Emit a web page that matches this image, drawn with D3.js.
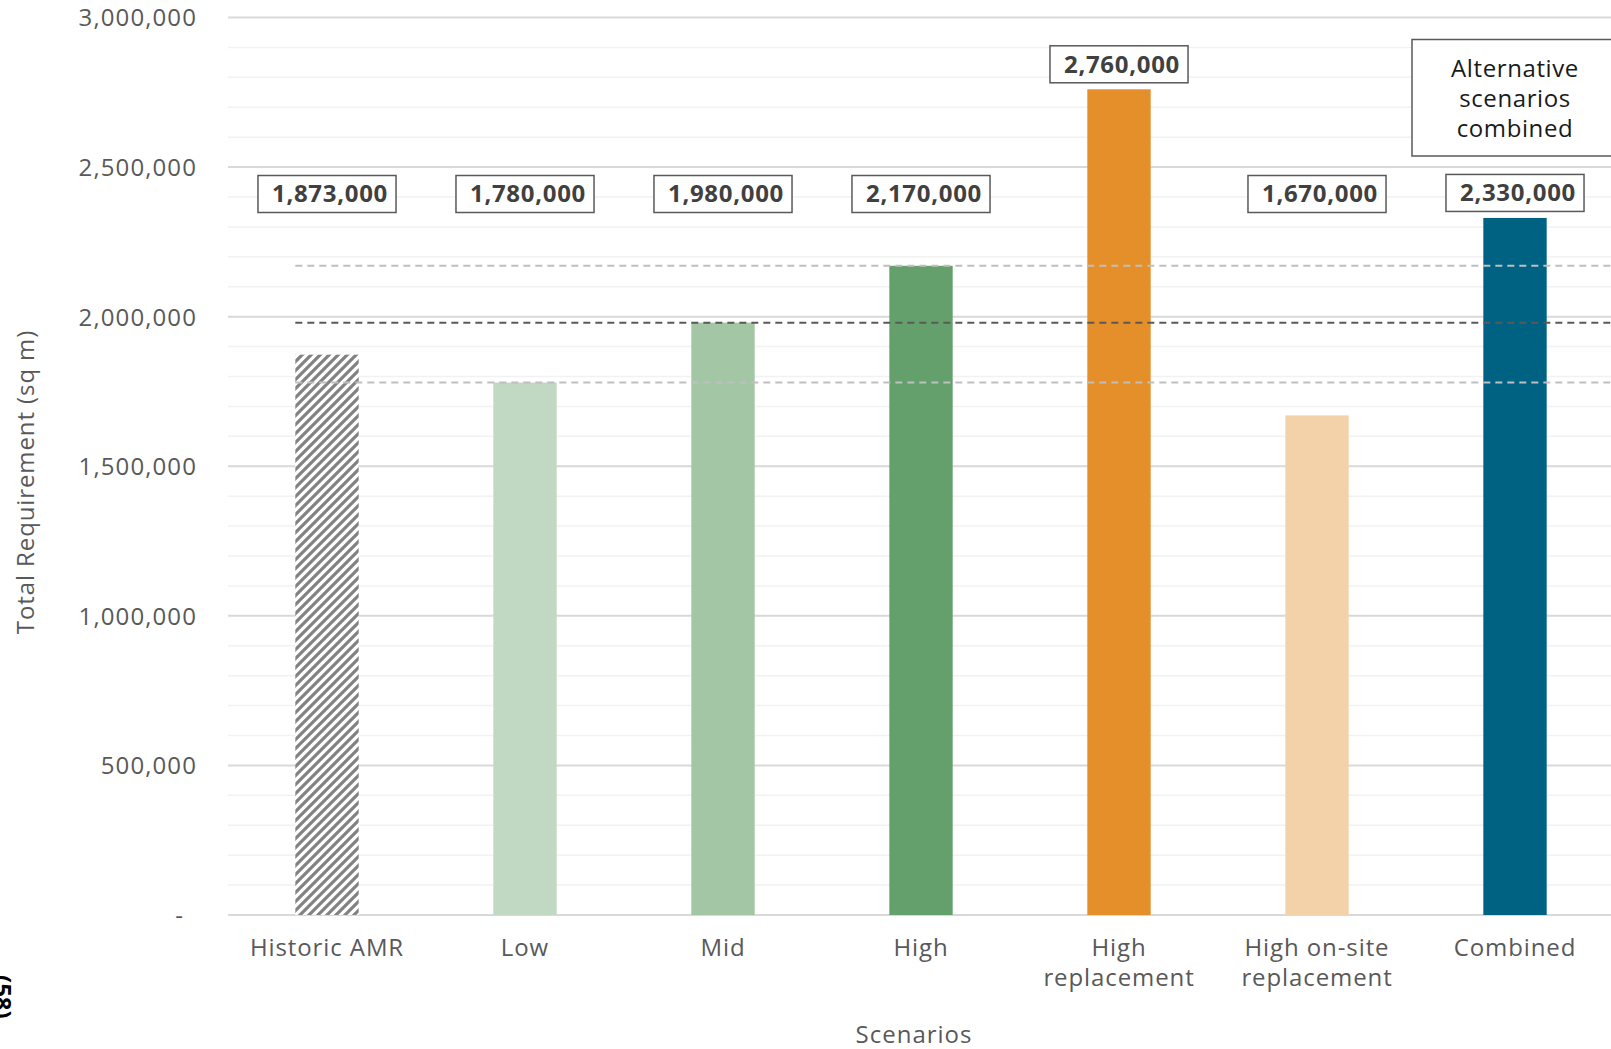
<!DOCTYPE html>
<html>
<head>
<meta charset="utf-8">
<script src="https://cdn.jsdelivr.net/npm/d3@7"></script>
<style>
  html, body { margin: 0; padding: 0; background: #fff; overflow: hidden; }
  svg { display: block; }
  text { font-family: "Open Sans", "Noto Sans", sans-serif; }
</style>
</head>
<body>
<svg id="chart" width="1611" height="1049"></svg>
<script>
// Scenario categories (label lines) and total requirement values (sq m)
const categories = ["Historic AMR", "Low", "Mid", "High", "High replacement", "High on-site replacement", "Combined"];
const categoryLines = [["Historic AMR"], ["Low"], ["Mid"], ["High"], ["High", "replacement"], ["High on-site", "replacement"], ["Combined"]];
const values = [1873000, 1780000, 1980000, 2170000, 2760000, 1670000, 2330000];
const valueLabels = ["1,873,000", "1,780,000", "1,980,000", "2,170,000", "2,760,000", "1,670,000", "2,330,000"];
const barColors = [null, "#c1d9c3", "#a3c6a5", "#63a06b", "#e48f29", "#f4d2a9", "#006283"];
// Reference levels: Low, Mid and High scenarios
const referenceLines = [1780000, 1980000, 2170000];
const referenceColors = ["#bfbfbf", "#595959", "#bfbfbf"];
const yTicks = [0, 500000, 1000000, 1500000, 2000000, 2500000, 3000000];
const yTickLabels = ["-", "500,000", "1,000,000", "1,500,000", "2,000,000", "2,500,000", "3,000,000"];
const combinedNote = ["Alternative", "scenarios", "combined"];

const svg = d3.select("#chart");

const plot = { left: 228, right: 1614, top: 17.5, bottom: 915 };

const x = d3.scaleBand()
  .domain(categories)
  .range([plot.left, plot.right])
  .paddingInner(0.68)
  .paddingOuter(0.34);

const y = d3.scaleLinear()
  .domain([0, 3000000])
  .range([plot.bottom, plot.top]);

// Hatch fill for the historic bar
const defs = svg.append("defs");
const pat = defs.append("pattern")
  .attr("id", "hatch")
  .attr("patternUnits", "userSpaceOnUse")
  .attr("width", 9).attr("height", 9);
pat.append("rect").attr("width", 9).attr("height", 9).attr("fill", "#ffffff");
pat.append("path")
  .attr("d", "M-2.25,2.25 L2.25,-2.25 M0,9 L9,0 M6.75,11.25 L11.25,6.75")
  .attr("stroke", "#828282")
  .attr("stroke-width", 3.2);

// Minor gridlines every 100,000
const minor = d3.range(0, 3000001, 100000).filter(v => v % 500000 !== 0);
svg.append("g").selectAll("line").data(minor).join("line")
  .attr("x1", plot.left).attr("x2", 1611)
  .attr("y1", d => y(d)).attr("y2", d => y(d))
  .attr("stroke", "#f2f2f2").attr("stroke-width", 1.5);

// Major gridlines
svg.append("g").selectAll("line").data(yTicks).join("line")
  .attr("x1", plot.left).attr("x2", 1611)
  .attr("y1", d => y(d)).attr("y2", d => y(d))
  .attr("stroke", "#d9d9d9").attr("stroke-width", 2);

// Y axis tick labels
const yAxis = d3.axisLeft(y)
  .tickValues(yTicks)
  .tickFormat((d, i) => yTickLabels[i])
  .tickSize(0)
  .tickPadding(0);
const yg = svg.append("g").attr("transform", "translate(197,0)").call(yAxis);
yg.select(".domain").remove();
yg.selectAll("text")
  .attr("font-size", 24)
  .attr("fill", "#595959")
  .attr("letter-spacing", 1.1)
  .attr("font-family", "'Open Sans', sans-serif")
  .attr("dy", "0.35em")
  .attr("dx", d => d === 0 ? -13 : 0);

// Bars
svg.append("g").selectAll("rect").data(values).join("rect")
  .attr("x", (d, i) => x(categories[i]))
  .attr("width", x.bandwidth())
  .attr("y", d => y(d))
  .attr("height", d => y(0) - y(d))
  .attr("fill", (d, i) => barColors[i] ? barColors[i] : "url(#hatch)");

// Dashed reference lines drawn over the bars
svg.append("g").selectAll("line").data(referenceLines).join("line")
  .attr("x1", x(categories[0])).attr("x2", 1611)
  .attr("y1", d => y(d)).attr("y2", d => y(d))
  .attr("stroke", (d, i) => referenceColors[i])
  .attr("stroke-width", 2)
  .attr("stroke-dasharray", "7,5");

// X axis category labels
const xg = svg.append("g");
categoryLines.forEach((lines, i) => {
  const t = xg.append("text")
    .attr("x", x(categories[i]) + x.bandwidth() / 2)
    .attr("y", 956)
    .attr("text-anchor", "middle")
    .attr("font-size", 24)
    .attr("letter-spacing", 0.9)
    .attr("fill", "#595959");
  lines.forEach((ln, j) => {
    t.append("tspan")
      .attr("x", x(categories[i]) + x.bandwidth() / 2)
      .attr("dy", j === 0 ? 0 : 30)
      .text(ln);
  });
});

// Value labels in boxes
const lg = svg.append("g");
values.forEach((v, i) => {
  const cx = x(categories[i]) + x.bandwidth() / 2;
  const cy = Math.min(194, y(v) - 25);
  const t = lg.append("text")
    .attr("x", cx + 3)
    .attr("y", cy)
    .attr("dy", "0.35em")
    .attr("text-anchor", "middle")
    .attr("font-size", 24)
    .attr("font-weight", 700)
    .attr("letter-spacing", 0.7)
    .attr("fill", "#404040")
    .text(valueLabels[i]);
  const w = t.node().getComputedTextLength() + 22;
  lg.insert("rect", "text")
    .attr("x", cx - w / 2)
    .attr("y", cy - 18.5)
    .attr("width", w)
    .attr("height", 37)
    .attr("fill", "#ffffff")
    .attr("stroke", "#595959")
    .attr("stroke-width", 1.5);
});

// Note box above the combined scenario
const noteX = x("Combined") + x.bandwidth() / 2;
svg.append("rect")
  .attr("x", noteX - 103).attr("y", 39.5)
  .attr("width", 206).attr("height", 116.5)
  .attr("fill", "#ffffff")
  .attr("stroke", "#595959")
  .attr("stroke-width", 1.5);
const note = svg.append("text")
  .attr("text-anchor", "middle")
  .attr("font-size", 24)
  .attr("letter-spacing", 0.6)
  .attr("fill", "#1a1a1a");
combinedNote.forEach((ln, j) => {
  note.append("tspan").attr("x", noteX).attr("y", 76.5 + j * 30).text(ln);
});

// Axis titles
svg.append("text")
  .attr("x", 914).attr("y", 1043)
  .attr("text-anchor", "middle")
  .attr("font-size", 24)
  .attr("letter-spacing", 1)
  .attr("fill", "#595959")
  .text("Scenarios");

svg.append("text")
  .attr("transform", "translate(34,482) rotate(-90)")
  .attr("text-anchor", "middle")
  .attr("font-size", 24)
  .attr("letter-spacing", 0.9)
  .attr("fill", "#595959")
  .text("Total Requirement (sq m)");

// Page number running along the left edge
svg.append("text")
  .attr("transform", "translate(-6,975) rotate(90)")
  .attr("font-size", 24)
  .attr("font-weight", 700)
  .attr("fill", "#000000")
  .text("(58)");
</script>
</body>
</html>
